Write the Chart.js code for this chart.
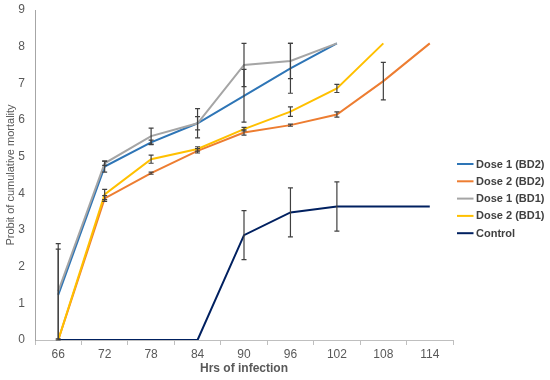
<!DOCTYPE html>
<html>
<head>
<meta charset="utf-8">
<script src="https://cdn.jsdelivr.net/npm/chart.js@4.4.1/dist/chart.umd.min.js"></script>
<style>
  html, body { margin: 0; padding: 0; background: #ffffff; }
  #wrap { width: 550px; height: 380px; position: relative; }
</style>
</head>
<body>
<div id="wrap"><canvas id="c" width="550" height="380"></canvas></div>
<script>
// ---- data ----
const hours = ['66', '72', '78', '84', '90', '96', '102', '108', '114'];
const seriesNames = ['Dose 1 (BD2)', 'Dose 2 (BD2)', 'Dose 1 (BD1)', 'Dose 2 (BD1)', 'Control'];
const dose1BD2 = [1.23, 4.73, 5.39, 5.91, 6.66, 7.41, 8.09];
const dose2BD2 = [0, 3.86, 4.55, 5.16, 5.66, 5.86, 6.15, 7.06, 8.09];
const dose1BD1 = [1.33, 4.82, 5.56, 5.91, 7.50, 7.61, 8.09];
const dose2BD1 = [0, 3.97, 4.93, 5.21, 5.75, 6.23, 6.86, 8.09];
const control  = [0, 0, 0, 0, 2.86, 3.48, 3.64, 3.64, 3.64];
// error bar half-lengths (same index as values)
const errDose1BD2 = [1.25, 0.15, 0.06, 0.18, 0.72, 0.68, 0];
const errDose2BD2 = [0, 0.08, 0.03, 0.06, 0.07, 0.03, 0.07, 0.51, 0];
const errDose1BD1 = [1.30, 0.06, 0.22, 0.40, 0.59, 0.48, 0];
const errDose2BD1 = [0, 0.14, 0.11, 0.06, 0.05, 0.13, 0.11, 0];
const errControl  = [0, 0, 0, 0, 0.67, 0.67, 0.67, 0, 0];
const yTicks = [0, 1, 2, 3, 4, 5, 6, 7, 8, 9];

const colors = ['#2E75B6', '#ED7D31', '#A5A5A5', '#FFC000', '#002060'];
const values = [dose1BD2, dose2BD2, dose1BD1, dose2BD1, control];
const errors = [errDose1BD2, errDose2BD2, errDose1BD1, errDose2BD1, errControl];

const FONT = "'Liberation Sans', Arial, sans-serif";

const errorBarPlugin = {
  id: 'errorBars',
  afterDatasetsDraw(chart) {
    const ctx = chart.ctx;
    const xs = chart.scales.x, ys = chart.scales.y;
    ctx.save();
    ctx.strokeStyle = '#404040';
    ctx.lineWidth = 1.2;
    chart.data.datasets.forEach((ds) => {
      const err = ds.errors || [];
      ds.data.forEach((v, i) => {
        const e = err[i];
        if (v == null || !e) return;
        const x = xs.getPixelForValue(i);
        const lo = Math.max(ys.min, v - e), hi = Math.min(ys.max, v + e);
        const y1 = ys.getPixelForValue(lo), y2 = ys.getPixelForValue(hi);
        ctx.beginPath();
        ctx.moveTo(x, y1); ctx.lineTo(x, y2);
        ctx.moveTo(x - 2.5, y1); ctx.lineTo(x + 2.5, y1);
        ctx.moveTo(x - 2.5, y2); ctx.lineTo(x + 2.5, y2);
        ctx.stroke();
      });
    });
    ctx.restore();
  }
};

const legendPlugin = {
  id: 'sideLegend',
  afterDraw(chart) {
    const ctx = chart.ctx;
    ctx.save();
    ctx.font = "bold 11px " + FONT;
    ctx.textBaseline = 'middle';
    ctx.textAlign = 'left';
    chart.data.datasets.forEach((ds, i) => {
      const y = 164 + i * 17.3;
      ctx.strokeStyle = ds.borderColor;
      ctx.lineWidth = 2;
      ctx.beginPath();
      ctx.moveTo(457, y); ctx.lineTo(473.5, y);
      ctx.stroke();
      ctx.fillStyle = '#404040';
      ctx.fillText(ds.label, 476, y + 0.5);
    });
    ctx.restore();
  }
};

new Chart(document.getElementById('c'), {
  type: 'line',
  data: {
    labels: hours,
    datasets: values.map((v, i) => ({
      label: seriesNames[i],
      data: v,
      errors: errors[i],
      borderColor: colors[i],
      backgroundColor: colors[i],
      borderWidth: 2,
      pointRadius: 0,
      pointHoverRadius: 0,
      tension: 0,
      fill: false,
      order: values.length - 1 - i
    }))
  },
  options: {
    responsive: false,
    animation: false,
    events: [],
    layout: { padding: { top: 10, right: 97, left: 0, bottom: 0 } },
    plugins: {
      legend: { display: false },
      tooltip: { enabled: false }
    },
    scales: {
      x: {
        type: 'category',
        offset: true,
        grid: {
          display: true,
          offset: true,
          drawOnChartArea: false,
          drawTicks: true,
          tickLength: 5,
          color: '#BFBFBF'
        },
        border: { display: true, color: '#BFBFBF', width: 1 },
        ticks: { color: '#595959', font: { family: FONT, size: 12 }, padding: 2, maxRotation: 0, autoSkip: false },
        title: { display: true, text: 'Hrs of infection', color: '#595959', font: { family: FONT, size: 12, weight: 'bold' }, padding: { top: 2, bottom: 4 } },
        afterFit(s) { s.height = 40; s.paddingLeft = 0; s.paddingRight = 0; }
      },
      y: {
        min: 0,
        max: 9,
        afterBuildTicks(s) { s.ticks = yTicks.map(v => ({ value: v })); },
        grid: { display: false, drawTicks: false },
        border: { display: true, color: '#A6A6A6', width: 1 },
        ticks: { color: '#595959', font: { family: FONT, size: 12 }, padding: 10 },
        title: { display: true, text: 'Probit of cumulative mortality', color: '#595959', font: { family: FONT, size: 11 }, padding: { top: 4, bottom: 4 } },
        afterFit(s) { s.width = 35; s.paddingTop = 0; s.paddingBottom = 0; }
      }
    }
  },
  plugins: [errorBarPlugin, legendPlugin]
});
</script>
</body>
</html>
